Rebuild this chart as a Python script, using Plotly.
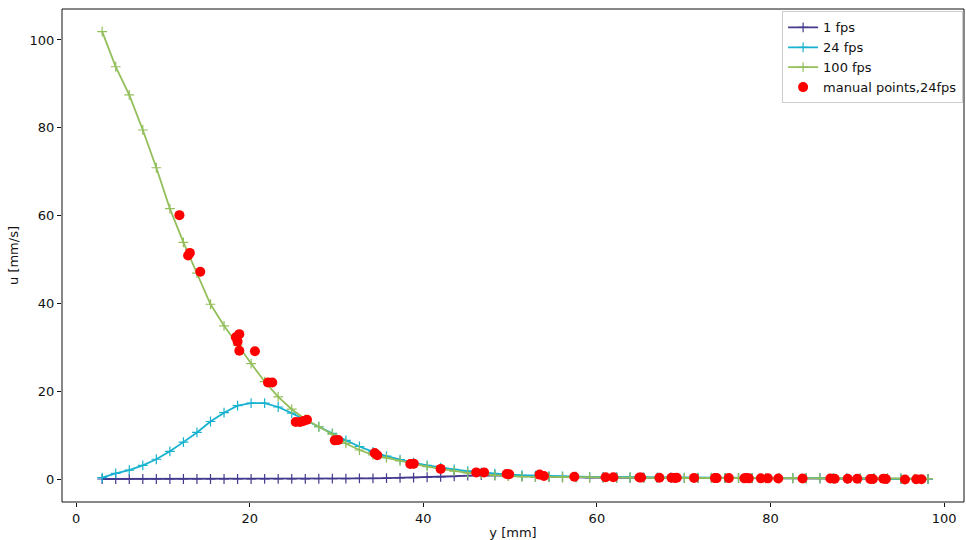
import plotly.graph_objects as go

# positions along y [mm]
y_mm = [3.00, 4.56, 6.12, 7.68, 9.24, 10.80, 12.36, 13.92, 15.48, 17.04,
        18.60, 20.16, 21.72, 23.28, 24.84, 26.40, 27.96, 29.52, 31.08, 32.64,
        34.20, 35.76, 37.32, 38.88, 40.44, 42.00, 43.56, 45.12, 46.68, 48.24,
        49.80, 51.36, 52.92, 54.48, 56.04, 57.60, 59.16, 60.72, 62.28, 63.84,
        65.40, 66.96, 68.52, 70.08, 71.64, 73.20, 74.76, 76.32, 77.88, 79.44,
        81.00, 82.56, 84.12, 85.68, 87.24, 88.80, 90.36, 91.92, 93.48, 95.04,
        96.60, 98.16]

u_1fps = [0.0, 0.0, 0.0, 0.0, 0.0, 0.0, 0.0, 0.0, 0.0, 0.0,
          0.0, 0.0, 0.02, 0.03, 0.04, 0.05, 0.06, 0.08, 0.1, 0.12,
          0.15, 0.2, 0.25, 0.32, 0.4, 0.5, 0.62, 0.78, 0.9, 0.85,
          0.7, 0.6, 0.5, 0.45, 0.4, 0.36, 0.33, 0.3, 0.28, 0.26,
          0.25, 0.24, 0.23, 0.22, 0.21, 0.2, 0.19, 0.18, 0.17, 0.16,
          0.15, 0.14, 0.13, 0.12, 0.11, 0.1, 0.09, 0.08, 0.07, 0.06,
          0.05, 0.04]

u_24fps = [0.3, 1.3, 2.0, 3.1, 4.5, 6.3, 8.4, 10.6, 13.1, 15.1,
           16.7, 17.3, 17.3, 16.4, 15.0, 13.4, 11.9, 10.4, 8.8, 7.4,
           6.2, 5.2, 4.4, 3.7, 3.1, 2.6, 2.2, 1.8, 1.5, 1.2,
           1.0, 0.85, 0.75, 0.65, 0.6, 0.55, 0.5, 0.45, 0.42, 0.4,
           0.38, 0.36, 0.34, 0.32, 0.3, 0.28, 0.26, 0.25, 0.24, 0.22,
           0.2, 0.19, 0.18, 0.17, 0.16, 0.15, 0.13, 0.11, 0.09, 0.07,
           0.05, 0.0]

u_100fps = [101.9, 93.9, 87.5, 79.5, 70.9, 61.6, 53.9, 46.9, 39.8, 34.9,
            30.5, 26.3, 22.2, 18.7, 15.9, 13.6, 11.9, 10.2, 8.1, 6.6,
            5.5, 4.8, 4.1, 3.4, 2.8, 2.3, 1.8, 1.4, 1.1, 0.8,
            0.65, 0.55, 0.5, 0.45, 0.4, 0.38, 0.35, 0.33, 0.3, 0.3,
            0.28, 0.27, 0.26, 0.25, 0.24, 0.23, 0.22, 0.21, 0.2, 0.2,
            0.19, 0.18, 0.17, 0.16, 0.15, 0.14, 0.13, 0.12, 0.11, 0.1,
            0.1, 0.08]

manual_y = [11.9, 12.9, 13.1, 14.3, 18.4, 18.6, 18.8, 18.8, 20.6, 22.1,
            22.6, 25.3, 25.8, 26.2, 26.6, 29.8, 30.2, 34.4, 34.7, 38.5,
            38.9, 42.0, 46.1, 47.0, 49.6, 49.9, 53.4, 53.9, 57.4, 61.0,
            61.9, 64.9, 65.1, 67.2, 68.6, 69.0, 69.2, 71.2, 73.6, 73.8,
            75.2, 77.0, 77.2, 77.5, 78.9, 79.7, 80.9, 83.7, 86.9, 87.4,
            88.9, 90.0, 91.5, 91.8, 93.0, 93.3, 95.5, 96.8, 97.4]
manual_u = [60.1, 50.9, 51.5, 47.2, 32.3, 31.3, 33.0, 29.2, 29.1, 22.0,
            22.0, 13.0, 13.0, 13.2, 13.5, 8.8, 8.9, 5.9, 5.4, 3.4,
            3.5, 2.3, 1.5, 1.5, 1.15, 1.1, 1.0, 0.7, 0.5, 0.4,
            0.4, 0.35, 0.35, 0.3, 0.3, 0.25, 0.3, 0.25, 0.2, 0.2,
            0.2, 0.15, 0.2, 0.15, 0.15, 0.15, 0.1, 0.1, 0.1, 0.05,
            0.05, 0.05, 0.0, 0.0, 0.05, 0.0, -0.1, -0.05, -0.05]

x_ticks = [0, 20, 40, 60, 80, 100]
y_ticks = [0, 20, 40, 60, 80, 100]

FONT = "DejaVu Sans"

fig = go.Figure()

series = [
    ("1 fps", u_1fps, "#433a8e"),
    ("24 fps", u_24fps, "#17b2cf"),
    ("100 fps", u_100fps, "#93bf5b"),
]
for name, vals, col in series:
    fig.add_trace(go.Scatter(
        x=y_mm, y=vals, name=name, mode="lines+markers",
        line=dict(color=col, width=1.8),
        marker=dict(symbol="cross-thin", size=7, color=col,
                    line=dict(color=col, width=1.2)),
    ))

fig.add_trace(go.Scatter(
    x=manual_y, y=manual_u, name="manual points,24fps", mode="markers",
    marker=dict(symbol="circle", size=10, color="#ff0000"),
))

fig.update_layout(
    width=966, height=540,
    margin=dict(l=62, r=2, t=9, b=38, autoexpand=False),
    paper_bgcolor="white", plot_bgcolor="white",
    font=dict(family=FONT, size=13, color="#111"),
    showlegend=True,
    legend=dict(x=0.999, y=0.995, xanchor="right", yanchor="top",
                bgcolor="white", bordercolor="#cccccc", borderwidth=1,
                font=dict(family=FONT, size=13, color="#111"),
                tracegroupgap=0),
    shapes=[dict(type="rect", xref="paper", yref="paper", x0=0, x1=1, y0=0, y1=1,
                 line=dict(color="#111", width=1), layer="above")],
)

fig.update_xaxes(
    range=[-1.63, 102.3], tickvals=x_ticks, ticktext=[str(t) for t in x_ticks],
    showgrid=False, zeroline=False, showline=False,
    ticks="outside", ticklen=4, tickcolor="#111",
    title=dict(text="y [mm]", font=dict(family=FONT, size=13), standoff=6),
)
fig.update_yaxes(
    range=[-5.24, 107.06], tickvals=y_ticks, ticktext=[str(t) for t in y_ticks],
    showgrid=False, zeroline=False, showline=False,
    ticks="outside", ticklen=4, tickcolor="#111",
    title=dict(text="u [mm/s]", font=dict(family=FONT, size=13), standoff=8),
)

fig.write_html("out.html")
